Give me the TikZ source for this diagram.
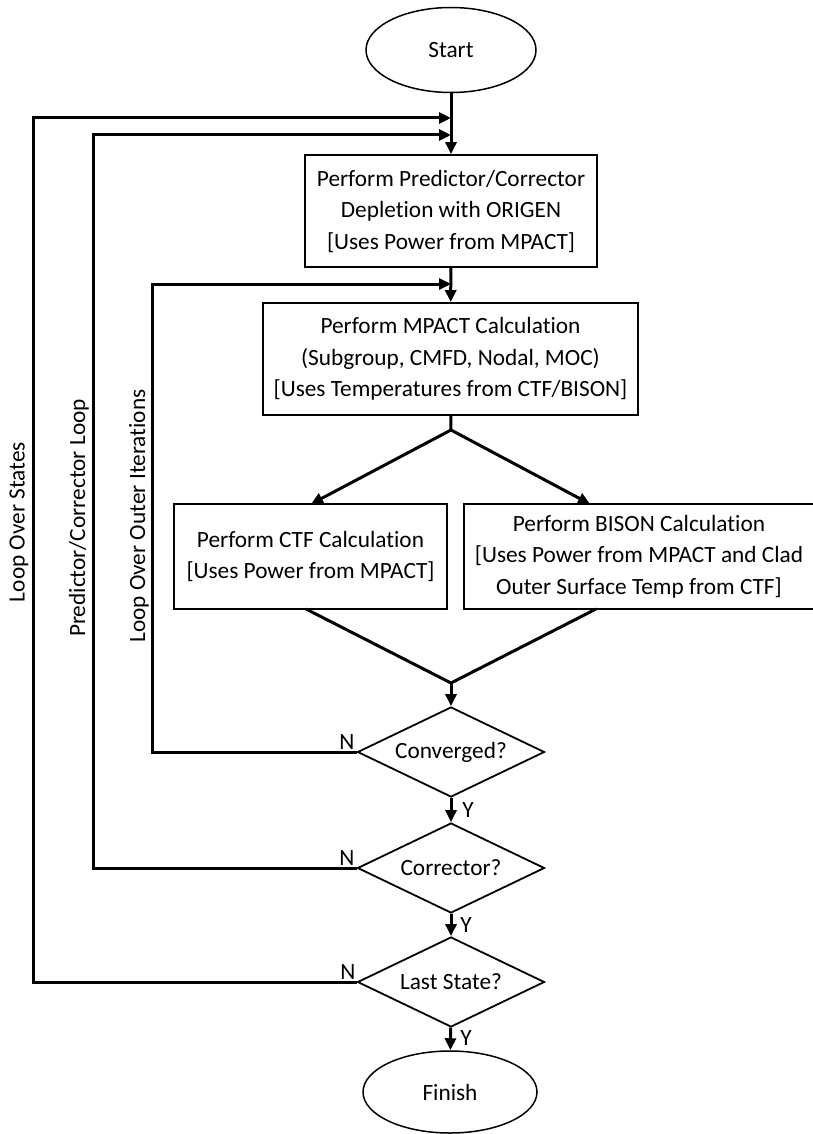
\documentclass[tikz,border=0pt]{standalone}
\usepackage{fontspec}
\setmainfont[Ligatures=NoCommon]{Carlito}
\usetikzlibrary{positioning}
\usetikzlibrary{shapes.geometric}
\usetikzlibrary{arrows.meta}

\begin{document}
\begin{tikzpicture}[x=1pt, y=-1pt,
  every node/.style={font=\fontsize{23.3}{31.5}\selectfont, text=black},
  termnode/.style={ellipse, draw=black, line width=1.5pt, inner sep=0pt},
  procbox/.style={rectangle, draw=black, line width=1.8pt, align=center, inner sep=0pt},
  decide/.style={diamond, aspect=2, draw=black, line width=1.8pt, minimum width=187pt, minimum height=90pt, inner sep=0pt},
  flowarrow/.style={line width=3pt, -{Triangle[length=12pt,width=11pt]}},
  flowline/.style={line width=3pt},
  looplabel/.style={rotate=90, inner sep=0pt}]
\useasboundingbox (0,0) rectangle (813,1134);
% nodes
\node (start) [termnode, minimum width=170pt, minimum height=85pt] at (451, 50) {Start};
\node (deplete) [procbox, minimum width=292pt, minimum height=112pt] at (451, 211) {Perform Predictor/Corrector\\Depletion with ORIGEN\\{[}Uses Power from MPACT{]}};
\node (mpact) [procbox, minimum width=375pt, minimum height=112pt] at (450.5, 359) {Perform MPACT Calculation\\(Subgroup, CMFD, Nodal, MOC)\\{[}Uses Temperatures from CTF/BISON{]}};
\node (ctf) [procbox, minimum width=273pt, minimum height=105pt] at (310.5, 556.5) {Perform CTF Calculation\\{[}Uses Power from MPACT{]}};
\node (bison) [procbox, minimum width=350pt, minimum height=105pt] at (639, 556.5) {Perform BISON Calculation\\{[}Uses Power from MPACT and Clad\\Outer Surface Temp from CTF{]}};
\node (conv) [decide] at (451, 752) {Converged?};
\node (corr) [decide] at (451, 868) {Corrector?};
\node (last) [decide] at (451, 982) {Last State?};
\node (finish) [termnode, minimum width=174pt, minimum height=82pt] at (450, 1092) {Finish};
% junctions
\coordinate (j1) at (451, 118);
\coordinate (j2) at (451, 135);
\coordinate (j3) at (451, 284);
\coordinate (split) at (451, 430);
\coordinate (merge) at (451, 683);
\coordinate (ctfin) at (311, 504);
\coordinate (bisonin) at (590, 504);
\coordinate (ctfout) at (306, 609);
\coordinate (bisonout) at (596, 609);
% main flow
\draw [flowarrow] (start) to (deplete);
\draw [flowarrow] (deplete) to (mpact);
\draw [flowline] (mpact) to (split);
\draw [flowarrow] (split) to (ctfin);
\draw [flowarrow] (split) to (bisonin);
\draw [flowline] (ctfout) to (merge);
\draw [flowline] (bisonout) to (merge);
\draw [flowarrow] (merge) to (conv);
\draw [flowarrow] (conv) to (corr);
\draw [flowarrow] (corr) to (last);
\draw [flowarrow] (last) to (finish);
% loops
\draw [flowarrow] (conv.west) -- (152, 752) -- (152, 284) -- (j3);
\draw [flowarrow] (corr.west) -- (93, 868) -- (93, 135) -- (j2);
\draw [flowarrow] (last.west) -- (33, 982) -- (33, 118) -- (j1);
% labels
\node (nconv) at (347, 742) {N};
\node (ncorr) at (347, 858) {N};
\node (nlast) at (348, 972) {N};
\node (yconv) at (468, 810) {Y};
\node (ycorr) at (466, 925) {Y};
\node (ylast) at (466, 1038) {Y};
\node (lstates) [looplabel] at (19, 522) {Loop Over States};
\node (lpc) [looplabel] at (79, 518) {Predictor/Corrector Loop};
\node (louter) [looplabel] at (139, 516) {Loop Over Outer Iterations};
\end{tikzpicture}
\end{document}
